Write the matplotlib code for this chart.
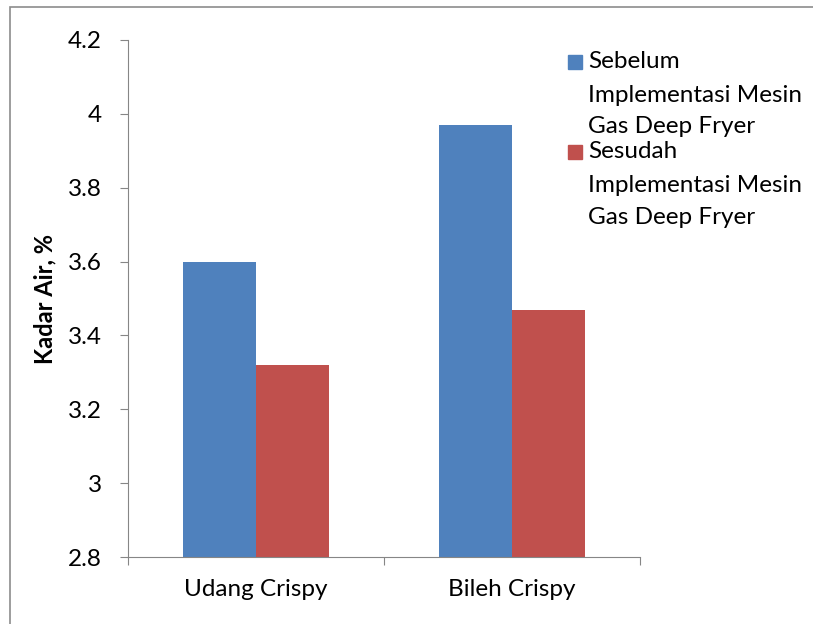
import matplotlib.pyplot as plt
from matplotlib.patches import Rectangle

categories = ["Udang Crispy", "Bileh Crispy"]
sebelum = [3.60, 3.97]
sesudah = [3.32, 3.47]
legend_lines = [["Sebelum", "Implementasi Mesin", "Gas Deep Fryer"],
                ["Sesudah", "Implementasi Mesin", "Gas Deep Fryer"]]
yticks = [2.8, 3.0, 3.2, 3.4, 3.6, 3.8, 4.0, 4.2]
ytick_labels = ["2.8", "3", "3.2", "3.4", "3.6", "3.8", "4", "4.2"]

blue = "#4F81BD"
red = "#C0504D"
grey = "#868686"
fs = 17.5
plt.rcParams['font.family'] = ['Lato', 'DejaVu Sans']

W, H = 813, 624
fig = plt.figure(figsize=(W / 100, H / 100), dpi=100)
ax = fig.add_axes([128 / W, 1 - 557 / H, (640 - 128) / W, (557 - 40) / H])

w = 1 / 3.5
x = range(len(categories))
ax.bar([i - w / 2 for i in x], sebelum, width=w, color=blue)
ax.bar([i + w / 2 for i in x], sesudah, width=w, color=red)
ax.set_xlim(-0.5, 1.5)
ax.set_ylim(2.8, 4.2)
ax.set_yticks(yticks)
ax.set_yticklabels(ytick_labels)
ax.set_xticks([-0.5, 0.5, 1.5])
ax.set_xticklabels([])
ax.set_xticks([0, 1], minor=True)
ax.set_xticklabels(categories, minor=True)
ax.tick_params(axis='x', which='minor', length=0, pad=16, labelsize=fs)
ax.tick_params(axis='x', which='major', length=6, color=grey, direction='out')
ax.tick_params(axis='y', length=6, color=grey, pad=13, labelsize=fs)
for s in ['top', 'right']:
    ax.spines[s].set_visible(False)
for s in ['left', 'bottom']:
    ax.spines[s].set_color(grey)
ax.set_ylabel("Kadar Air, %", fontsize=17, fontweight='bold')
ax.yaxis.set_label_coords(-0.14, 0.5)

# legend drawn by hand (Excel style wrapping)
line_y = [[62, 95, 127], [152, 185, 217]]
colors = [blue, red]
for k in range(2):
    fig.patches.append(Rectangle((568 / W, 1 - (line_y[k][0] + 7) / H), 14 / W, 14 / H,
                                 transform=fig.transFigure, color=colors[k]))
    for t, yy in zip(legend_lines[k], line_y[k]):
        fig.text(588 / W, 1 - yy / H, t, fontsize=fs, va='center', ha='left')

# chart border
fig.patches.append(Rectangle((10 / W, -0.05), 1.1, 1 - 7 / H + 0.05, transform=fig.transFigure,
                             fill=False, edgecolor="#8C8C8C", linewidth=1.2))

fig.savefig("out.png", dpi=100)
